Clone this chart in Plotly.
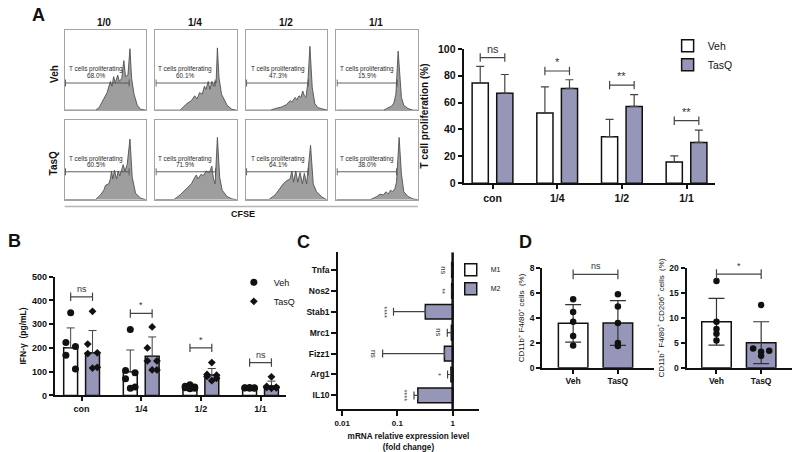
import math
import plotly.graph_objects as go

W, H = 792, 452
FONT = "Liberation Sans, Arial, sans-serif"
PURPLE = "#9696b8"
INK = "#111111"
BR = "#444444"

# ======================= DATA =======================
# ---- Panel A: CFSE histograms (channel 0-100, relative count 0-100) ----
cfse_cols = ["1/0", "1/4", "1/2", "1/1"]
cfse_rows = ["Veh", "TasQ"]
cfse_pct = ["68.0%", "60.1%", "47.3%", "15.9%", "60.5%", "71.9%", "64.1%", "38.0%"]
cfse_gate_end = [79, 73.4, 76.6, 74.6, 79, 74, 76.6, 73.8]

veh_10_x = [0, 37.7, 42, 46, 50, 52, 56, 58, 60, 62, 65, 67, 70, 72.5, 74.6, 77.5, 80, 82, 85, 89, 93, 100]
veh_10_y = [0, 0, 3, 10, 18, 22, 36, 30, 42, 34, 44, 36, 40, 62, 42, 44, 77, 40, 20, 6, 1, 0]
veh_14_x = [0, 30.5, 38.5, 44.4, 48.4, 51.2, 54.4, 57.5, 60.3, 62.3, 65, 67, 69.4, 71.4, 73.4, 74.6, 76.2, 78.2, 81.3, 84.1, 88.1, 94, 100]
veh_14_y = [0, 0, 8, 12, 18, 14, 22, 20, 30, 26, 36, 26, 36, 30, 36, 34, 78, 40, 20, 14, 6, 1, 0]
veh_12_x = [0, 30, 36, 44, 50, 54.4, 56.5, 60.5, 62.5, 65.3, 67.7, 69.8, 71.8, 73.8, 76.2, 78.6, 81.5, 84.7, 88.7, 94.8, 100]
veh_12_y = [0, 0, 2, 4, 7, 12, 10, 16, 13, 18, 16, 24, 18, 16, 36, 80, 28, 8, 3, 1, 0]
veh_11_x = [0, 57.7, 61.7, 67.7, 70.6, 73, 75.8, 77.8, 79.8, 82.7, 87.9, 94, 100]
veh_11_y = [0, 0, 2, 5, 9, 20, 74, 48, 16, 6, 2, 0, 0]
tasq_10_x = [0, 37.7, 43.9, 48, 50, 54, 56, 57.4, 59, 61, 63.5, 65.6, 67.6, 69.7, 71.7, 73.8, 76.6, 80, 82.8, 86.9, 93, 99, 100]
tasq_10_y = [0, 0, 6, 12, 18, 20, 26, 36, 26, 37, 26, 36, 30, 36, 44, 36, 44, 76, 28, 8, 2, 0, 0]
tasq_14_x = [0, 22.6, 30.5, 38.5, 44.4, 48.4, 50.4, 52.4, 56.3, 59, 62.3, 66.3, 69.4, 71.4, 73.4, 76.2, 79, 82, 88, 94, 100]
tasq_14_y = [0, 0, 6, 14, 20, 28, 31, 26, 32, 30, 36, 34, 42, 26, 20, 78, 28, 12, 4, 1, 0]
tasq_12_x = [0, 28, 36, 42, 46, 50.4, 54.4, 56.5, 58.5, 61.3, 63.7, 66.5, 69.4, 71.8, 74.6, 79.4, 82.7, 86.7, 92.7, 98.8, 100]
tasq_12_y = [0, 0, 6, 14, 20, 24, 26, 36, 22, 36, 22, 34, 20, 33, 20, 68, 20, 10, 4, 0, 0]
tasq_11_x = [0, 41.5, 49.6, 53.6, 57.7, 60.9, 63.7, 66.5, 69, 71.8, 73.8, 77, 79.8, 82.7, 87.9, 94, 100]
tasq_11_y = [0, 0, 4, 7, 6, 10, 7, 12, 10, 14, 22, 78, 32, 10, 4, 1, 0]

cfse_x = [veh_10_x, veh_14_x, veh_12_x, veh_11_x, tasq_10_x, tasq_14_x, tasq_12_x, tasq_11_x]
cfse_y = [veh_10_y, veh_14_y, veh_12_y, veh_11_y, tasq_10_y, tasq_14_y, tasq_12_y, tasq_11_y]

# ---- Panel A: T cell proliferation bars ----
prolif_cats = ["con", "1/4", "1/2", "1/1"]
prolif_veh = [74.6, 52.3, 34.6, 15.7]
prolif_veh_sd = [12.3, 19.4, 12.9, 4.6]
prolif_tasq = [67.0, 70.5, 57.1, 30.3]
prolif_tasq_sd = [13.9, 6.5, 8.8, 9.2]
prolif_sig = ["ns", "*", "**", "**"]
prolif_bracket = [93.5, 83.5, 73.0, 46.5]

# ---- Panel B: IFN-gamma ----
ifn_cats = ["con", "1/4", "1/2", "1/1"]
ifn_veh = [201, 100, 35, 32]
ifn_veh_sd = [83, 91, 8, 3]
ifn_tasq = [179, 165, 86, 40]
ifn_tasq_sd = [94, 81, 27, 20]
ifn_veh_pts = [[348, 223, 206, 169, 111],
               [277, 105, 95, 70, 35, 30],
               [45, 38, 35, 32, 30, 28],
               [33, 32, 32, 31, 30, 30]]
ifn_tasq_pts = [[354, 216, 179, 176, 118, 115],
                [288, 200, 145, 145, 107, 107],
                [138, 88, 85, 80, 72, 62],
                [78, 38, 35, 33, 32, 30]]
ifn_sig = ["ns", "*", "*", "ns"]
ifn_bracket = [415, 345, 200, 138]

# ---- Panel C: qPCR fold change ----
genes = ["Tnfa", "Nos2", "Stab1", "Mrc1", "Fizz1", "Arg1", "IL10"]
m1_fold = [1, 1, 1, 1, 1, 1, 1]
m2_fold = [0.96, 0.96, 0.32, 0.95, 0.71, 0.93, 0.234]
m2_err_low = [0.96, 0.96, 0.085, 0.80, 0.054, 0.81, 0.20]
gene_sig = ["ns", "**", "****", "ns", "ns", "*", "****"]

# ---- Panel D: flow percentages ----
d_groups = ["Veh", "TasQ"]
d1_mean = [3.57, 3.60]
d1_sd = [1.5, 1.8]
d1_veh_pts = [5.5, 4.48, 3.7, 2.55, 1.8]
d1_tasq_pts = [5.9, 4.92, 3.6, 2.0, 1.75]
d1_sig, d1_bracket = "ns", 7.5
d2_mean = [9.25, 5.05]
d2_sd = [4.7, 4.2]
d2_veh_pts = [17.4, 9.25, 7.8, 6.85, 5.5]
d2_tasq_pts = [12.6, 3.9, 3.45, 3.25, 2.4]
d2_sig, d2_bracket = "*", 18.8

# ======================= HELPERS =======================
def xdom(p0, p1):
    return [p0 / W, p1 / W]

def ydom(top, bottom):
    return [1 - bottom / H, 1 - top / H]

def aid(n):
    return "" if n == 1 else str(n)

def pann(text, px, py, size, bold=False, angle=0, color=INK, xanchor="center", yanchor="middle"):
    return dict(text=text, x=px / W, y=1 - py / H, xref="paper", yref="paper", showarrow=False,
                textangle=angle, xanchor=xanchor, yanchor=yanchor,
                font=dict(size=size, family=FONT, color=color, weight="bold" if bold else "normal"))

traces = []
annotations = []
shapes = []
layout = dict(width=W, height=H, margin=dict(l=0, r=0, t=0, b=0), paper_bgcolor="white",
              plot_bgcolor="white", font=dict(family=FONT, color=INK, size=10), barmode="overlay")

# ======================= PANEL A: histograms =======================
cfse_label_x = [38.5, 36.5, 39, 37.5]
for i in range(8):
    n = i + 1
    r, c = divmod(i, 4)
    x0 = 61 + 91 * c
    y0 = 25 + 92 * r
    box = dict(showline=True, mirror=True, linecolor="#a3a3a3", linewidth=1, showticklabels=False,
               ticks="", showgrid=False, zeroline=False, range=[0, 100], fixedrange=True)
    layout["xaxis" + aid(n)] = dict(box, domain=xdom(x0, x0 + 82), anchor="y" + aid(n))
    layout["yaxis" + aid(n)] = dict(box, domain=ydom(y0, y0 + 82), anchor="x" + aid(n))
    xa, ya = "x" + aid(n), "y" + aid(n)
    traces.append(go.Scatter(x=cfse_x[i], y=cfse_y[i], mode="lines", fill="tozeroy",
                             fillcolor="#9e9e9e", line=dict(color="#505050", width=0.9),
                             xaxis=xa, yaxis=ya, showlegend=False, hoverinfo="skip"))
    gy = 34 if r == 0 else 35
    traces.append(go.Scatter(x=[1, cfse_gate_end[i]], y=[gy, gy], mode="lines+markers",
                             line=dict(color="#505050", width=0.9),
                             marker=dict(symbol="line-ns", size=5, line=dict(color="#505050", width=0.9)),
                             xaxis=xa, yaxis=ya, showlegend=False, hoverinfo="skip"))
    annotations.append(dict(text="T cells proliferating", x=cfse_label_x[c], y=51, xref=xa, yref=ya,
                            showarrow=False, font=dict(size=6.4, family=FONT, color="#2a2a2a")))
    annotations.append(dict(text=cfse_pct[i], x=cfse_label_x[c], y=43.5, xref=xa, yref=ya,
                            showarrow=False, font=dict(size=6.4, family=FONT, color="#2a2a2a")))

for c, t in enumerate(cfse_cols):
    annotations.append(pann(t, 61 + 91 * c + 40, 17, 10, bold=True))
annotations.append(pann(cfse_rows[0], 50, 70, 10, bold=True, angle=-90))
annotations.append(pann(cfse_rows[1], 50, 162, 10, bold=True, angle=-90))
annotations.append(pann("CFSE", 240, 214, 9, bold=True))
shapes.append(dict(type="line", xref="paper", yref="paper", x0=61 / W, x1=416 / W,
                   y0=1 - 206 / H, y1=1 - 206 / H, line=dict(color="#b5b5b5", width=1.5)))

# panel letters
annotations.append(pann("A", 35, 9, 18, bold=True))
annotations.append(pann("B", 11, 241, 18, bold=True))
annotations.append(pann("C", 301, 242, 18, bold=True))
annotations.append(pann("D", 524, 242, 18, bold=True))

def style_axes(n, xd, yd, xr, yr, tickfs, xtickvals, xticktext, ytitle, ytitlefs, dtick=None,
               ylen=4, standoff=4):
    ax = dict(showline=True, linecolor=INK, linewidth=2, ticks="outside", ticklen=ylen, tickwidth=1.8,
              tickcolor=INK, showgrid=False, zeroline=False, fixedrange=True)
    layout["xaxis" + aid(n)] = dict(ax, domain=xd, range=xr, tickvals=xtickvals, ticktext=xticktext,
                                    anchor="y" + aid(n),
                                    tickfont=dict(size=tickfs, family=FONT, color=INK, weight="bold"))
    layout["yaxis" + aid(n)] = dict(ax, domain=yd, range=yr, dtick=dtick, anchor="x" + aid(n),
                                    tickfont=dict(size=tickfs, family=FONT, color=INK, weight="bold"),
                                    title=dict(text=ytitle, standoff=standoff,
                                               font=dict(size=ytitlefs, family=FONT, color=INK, weight="bold")))

def brackets(xa, ya, pairs, heights, labels, fs, tick=6):
    bx, by = [], []
    for (a, b), h in zip(pairs, heights):
        bx += [a, b, None]
        by += [h, h, None]
    traces.append(go.Scatter(x=bx, y=by, mode="lines+markers", xaxis=xa, yaxis=ya, cliponaxis=False,
                             line=dict(color=BR, width=1.2),
                             marker=dict(symbol="line-ns", size=tick, line=dict(color=BR, width=1.2)),
                             showlegend=False, hoverinfo="skip"))
    for (a, b), h, lab in zip(pairs, heights, labels):
        annotations.append(dict(text=lab, x=(a + b) / 2, y=h, xref=xa, yref=ya, showarrow=False,
                                yanchor="bottom", yshift=1, font=dict(size=fs, family=FONT, color="#333333")))

# ======================= PANEL A: bar chart =======================
idx = list(range(len(prolif_cats)))
traces.append(go.Bar(x=idx, y=prolif_veh, width=0.25, offset=-0.315, name="Veh",
                     marker=dict(color="white", line=dict(color=INK, width=1.5)),
                     error_y=dict(type="data", symmetric=False, array=prolif_veh_sd,
                                  arrayminus=[0] * 4, color=BR, thickness=1.2, width=4),
                     xaxis="x9", yaxis="y9", legend="legend"))
traces.append(go.Bar(x=idx, y=prolif_tasq, width=0.25, offset=0.065, name="TasQ",
                     marker=dict(color=PURPLE, line=dict(color=INK, width=1.5)),
                     error_y=dict(type="data", symmetric=False, array=prolif_tasq_sd,
                                  arrayminus=[0] * 4, color=BR, thickness=1.2, width=4),
                     xaxis="x9", yaxis="y9", legend="legend"))
style_axes(9, xdom(462, 715), ydom(44, 182), [-0.446, 3.446], [0, 100], 10.5, idx, prolif_cats,
           "T cell proliferation (%)", 10, dtick=20, standoff=8)
brackets("x9", "y9", [(i - 0.19, i + 0.19) for i in idx], prolif_bracket, prolif_sig, 11)

# ======================= PANEL B =======================
idxb = list(range(len(ifn_cats)))
traces.append(go.Bar(x=idxb, y=ifn_veh, width=0.233, offset=-0.3, showlegend=False,
                     marker=dict(color="white", line=dict(color=INK, width=1.5)),
                     error_y=dict(type="data", symmetric=False, array=ifn_veh_sd,
                                  arrayminus=[0] * 4, color=BR, thickness=1, width=4),
                     xaxis="x10", yaxis="y10"))
traces.append(go.Bar(x=idxb, y=ifn_tasq, width=0.233, offset=0.067, showlegend=False,
                     marker=dict(color=PURPLE, line=dict(color=INK, width=1.5)),
                     error_y=dict(type="data", symmetric=False, array=ifn_tasq_sd,
                                  arrayminus=[0] * 4, color=BR, thickness=1, width=4),
                     xaxis="x10", yaxis="y10"))
jit = [0, -0.08, 0.08, -0.08, 0.08, 0]
vx, vy, tx, ty = [], [], [], []
for i in idxb:
    for k, v in enumerate(ifn_veh_pts[i]):
        vx.append(i - 0.183 + jit[k]); vy.append(v)
    for k, v in enumerate(ifn_tasq_pts[i]):
        tx.append(i + 0.183 + jit[k]); ty.append(v)
traces.append(go.Scatter(x=vx, y=vy, mode="markers", name="Veh", cliponaxis=False,
                         marker=dict(symbol="circle", size=7, color=INK),
                         xaxis="x10", yaxis="y10", legend="legend2"))
traces.append(go.Scatter(x=tx, y=ty, mode="markers", name="TasQ", cliponaxis=False,
                         marker=dict(symbol="diamond", size=6, color=INK),
                         xaxis="x10", yaxis="y10", legend="legend2"))
style_axes(10, xdom(51, 283), ydom(278, 400), [-0.45, 3.42], [0, 500], 9, idxb, ifn_cats,
           "IFN-γ  (pg/mL)", 8.5, dtick=100)
brackets("x10", "y10", [(i - 0.183, i + 0.183) for i in idxb], ifn_bracket, ifn_sig, 9)

# ======================= PANEL C =======================
gidx = list(range(len(genes)))
traces.append(go.Bar(y=gidx, x=[v - 1 for v in m1_fold], base=1, orientation="h", width=0.7, name="M1",
                     marker=dict(color="white", line=dict(color=INK, width=1.5)),
                     xaxis="x11", yaxis="y11", legend="legend3"))
traces.append(go.Bar(y=gidx, x=[v - 1 for v in m2_fold], base=1, orientation="h", width=0.7, name="M2",
                     marker=dict(color=PURPLE, line=dict(color=INK, width=1.5)),
                     error_x=dict(type="data", symmetric=False, array=[0] * 7,
                                  arrayminus=[m - e for m, e in zip(m2_fold, m2_err_low)],
                                  color=BR, thickness=1.2, width=4),
                     xaxis="x11", yaxis="y11", legend="legend3"))
traces.append(go.Scatter(x=[1, 1], y=[-0.84, 6.65], mode="lines", line=dict(color=INK, width=2.5),
                         xaxis="x11", yaxis="y11", showlegend=False, hoverinfo="skip"))
cax = dict(showline=True, linecolor=INK, linewidth=2, ticks="outside", ticklen=5, tickwidth=1.8,
           tickcolor=INK, showgrid=False, zeroline=False, fixedrange=True)
layout["xaxis11"] = dict(cax, domain=xdom(336, 477), type="log", range=[-2.07, 0.47],
                         tickvals=[0.01, 0.1, 1], ticktext=["0.01", "0.1", "1"], anchor="y11",
                         tickfont=dict(size=8, family=FONT, color=INK, weight="bold"),
                         title=dict(text="mRNA relative expression level<br>(fold change)", standoff=8,
                                    font=dict(size=8.2, family=FONT, color=INK, weight="bold")))
layout["yaxis11"] = dict(cax, domain=ydom(253, 414), range=[6.65, -0.84], tickvals=gidx, ticktext=genes,
                         anchor="x11", tickfont=dict(size=8.5, family=FONT, color=INK, weight="bold"))
for i, s in enumerate(gene_sig):
    annotations.append(dict(text=s, x=math.log10(m2_err_low[i]), y=i, xref="x11", yref="y11",
                            showarrow=False, textangle=90, xshift=-9,
                            font=dict(size=7.5, family=FONT, color="#333333")))

# ======================= PANEL D =======================
def dpanel(n, xd, xr, yr, dtick, means, sds, vpts, tpts, tjit, sig, bh, ytitle):
    xa, ya = "x" + aid(n), "y" + aid(n)
    for g, col in enumerate(["white", PURPLE]):
        traces.append(go.Bar(x=[g], y=[means[g]], width=0.66, offset=-0.33, showlegend=False,
                             marker=dict(color=col, line=dict(color=INK, width=1.5)),
                             error_y=dict(type="data", array=[sds[g]], color="#333333", thickness=1.2, width=8),
                             xaxis=xa, yaxis=ya))
    traces.append(go.Scatter(x=[0] * len(vpts), y=vpts, mode="markers", showlegend=False,
                             marker=dict(size=6.5, color=INK), xaxis=xa, yaxis=ya, cliponaxis=False))
    traces.append(go.Scatter(x=[1 + j for j in tjit], y=tpts, mode="markers", showlegend=False,
                             marker=dict(size=6.5, color=INK), xaxis=xa, yaxis=ya, cliponaxis=False))
    style_axes(n, xd, ydom(269.3, 371.7), xr, yr, 8.5, [0, 1], d_groups, ytitle, 8, dtick=dtick)
    layout["yaxis" + aid(n)]["title"]["font"]["weight"] = "normal"
    brackets(xa, ya, [(0, 1)], [bh], [sig], 9, tick=7)

dpanel(12, xdom(541, 653), [-0.69, 1.8], [0, 8], 2, d1_mean, d1_sd, d1_veh_pts, d1_tasq_pts,
       [0, 0, 0, 0, 0], d1_sig, d1_bracket, "CD11b<sup>+</sup> F4/80<sup>+</sup> cells  (%)")
dpanel(13, xdom(686, 792), [-0.67, 1.69], [0, 20], 5, d2_mean, d2_sd, d2_veh_pts, d2_tasq_pts,
       [0, -0.18, 0.18, 0, 0], d2_sig, d2_bracket,
       "CD11b<sup>+</sup> F4/80<sup>+</sup> CD206<sup>+</sup> cells  (%)")

# ======================= LEGENDS =======================
layout["legend"] = dict(x=667 / W, y=1 - 26 / H, xanchor="left", yanchor="top", bgcolor="rgba(0,0,0,0)",
                        font=dict(size=10.5, family=FONT, color=INK), tracegroupgap=0, itemwidth=30)
layout["legend2"] = dict(x=231 / W, y=1 - 269 / H, xanchor="left", yanchor="top", bgcolor="rgba(0,0,0,0)",
                         font=dict(size=9, family=FONT, color=INK), tracegroupgap=0, itemwidth=30)
layout["legend3"] = dict(x=449 / W, y=1 - 256 / H, xanchor="left", yanchor="top", bgcolor="rgba(0,0,0,0)",
                         font=dict(size=7, family=FONT, color=INK), tracegroupgap=0, itemwidth=30)

layout["annotations"] = annotations
layout["shapes"] = shapes
fig = go.Figure(data=traces, layout=layout)
fig.write_html("out.html", config={"displayModeBar": False},
               post_script="document.body.style.margin='0px';")
